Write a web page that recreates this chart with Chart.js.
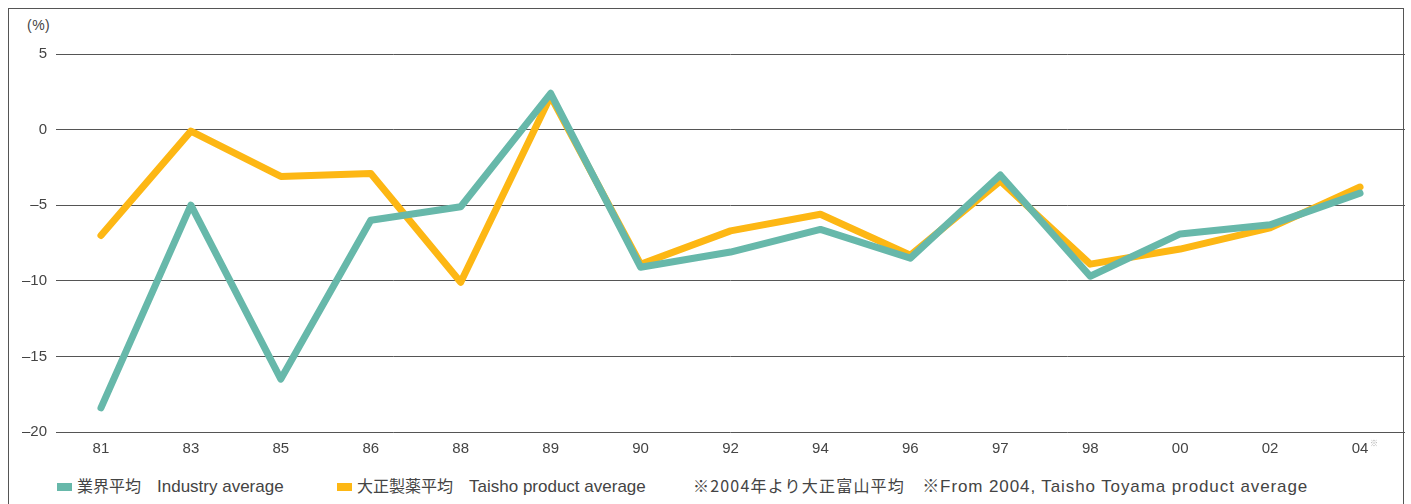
<!DOCTYPE html>
<html>
<head>
<meta charset="utf-8">
<script src="https://cdn.jsdelivr.net/npm/chart.js@4"></script>
<style>
    body { margin: 0; background: #fff; width: 1411px; height: 504px; overflow: hidden; position: relative; font-family: 'Liberation Sans', 'Noto Sans CJK JP', sans-serif; color: #444; }
    .frame { position: absolute; left: 8px; top: 8px; width: 1396px; height: 560px; border: 1px solid #555; border-bottom: none; box-sizing: border-box; }
    #wrap { position: absolute; left: 0; top: 0; width: 1411px; height: 470px; }
    .unit { position: absolute; left: 27px; top: 17px; font-size: 14px; letter-spacing: 0.5px; }
    .legend { position: absolute; top: 475px; line-height: 20px; white-space: nowrap; }
    .legend .box { display: inline-block; width: 15px; height: 8px; margin-right: 5px; vertical-align: 1px; }
    .legend .ja { font-family: 'Noto Sans CJK JP', sans-serif; font-size: 16px; }
    .legend .en { font-size: 17px; }
    .legend.note .ja { letter-spacing: 1.2px; }
    .legend.note .en { letter-spacing: 0.9px; }
</style>
</head>
<body>
<div class="frame"></div>
<div class="unit">(%)</div>
<div id="wrap"><canvas id="chart"></canvas></div>
<div id="legend"></div>

<script>
const years = ['81', '83', '85', '86', '88', '89', '90', '92', '94', '96', '97', '98', '00', '02', '04']
const industryAvg = [-18.4, -5.0, -16.5, -6.0, -5.1, 2.4, -9.1, -8.1, -6.6, -8.5, -3.0, -9.7, -6.9, -6.3, -4.2]
const taishoAvg = [-7.0, -0.1, -3.1, -2.9, -10.1, 2.2, -8.9, -6.7, -5.6, -8.3, -3.4, -8.9, -7.9, -6.5, -3.8]
const yTicks = [5, 0, -5, -10, -15, -20]

const seriesNames = [
    { ja: '業界平均', en: 'Industry average', color: '#67b8aa', left: 57 },
    { ja: '大正製薬平均', en: 'Taisho product average', color: '#fdb714', left: 337 }
]
const footnote = { ja: '※2004年より大正富山平均', en: '※From 2004, Taisho Toyama product average', left: 693 }

// html legend under the chart
const elLegend = document.getElementById('legend')
let strHTML = ''
seriesNames.forEach(s => {
    strHTML += `<div class="legend" style="left:${s.left}px"><span class="box" style="background:${s.color}"></span><span class="ja">${s.ja}　</span><span class="en">${s.en}</span></div>`
})
strHTML += `<div class="legend note" style="left:${footnote.left}px"><span class="ja">${footnote.ja}　</span><span class="en">${footnote.en}</span></div>`
elLegend.innerHTML = strHTML

// little ※ mark next to the last year label
const noteMark = {
    id: 'noteMark',
    afterDraw(chart) {
        const x = chart.scales.x
        const ctx = chart.ctx
        ctx.save()
        ctx.font = '8px "Noto Sans CJK JP"'
        ctx.fillStyle = '#aaa'
        ctx.textBaseline = 'middle'
        ctx.fillText('※', x.getPixelForTick(years.length - 1) + 10, 443)
        ctx.restore()
    }
}

Chart.defaults.font.family = "'Liberation Sans', 'Noto Sans CJK JP', sans-serif"
Chart.defaults.color = '#444'

new Chart(document.getElementById('chart'), {
    type: 'line',
    data: {
        labels: years,
        datasets: [{
            label: seriesNames[0].en,
            data: industryAvg,
            borderColor: seriesNames[0].color,
            borderWidth: 7,
            pointRadius: 0,
            borderCapStyle: 'round',
            borderJoinStyle: 'round',
            tension: 0
        }, {
            label: seriesNames[1].en,
            data: taishoAvg,
            borderColor: seriesNames[1].color,
            borderWidth: 7,
            pointRadius: 0,
            borderCapStyle: 'round',
            borderJoinStyle: 'round',
            tension: 0
        }]
    },
    options: {
        responsive: true,
        maintainAspectRatio: false,
        animation: false,
        layout: { padding: { left: 0, right: 6, top: 54, bottom: 0 } },
        plugins: {
            legend: { display: false },
            tooltip: { enabled: false }
        },
        scales: {
            x: {
                offset: true,
                grid: { display: false, drawTicks: false },
                border: { display: false },
                ticks: { padding: 8, font: { size: 15 }, color: '#444', maxRotation: 0, autoSkip: false },
                afterFit: scale => { scale.height = 38 }
            },
            y: {
                min: -20,
                max: 5,
                grid: { color: '#555', lineWidth: 1, drawTicks: false },
                border: { display: false },
                afterBuildTicks: scale => { scale.ticks = yTicks.map(v => ({ value: v })) },
                ticks: {
                    padding: 9,
                    font: { size: 15 },
                    color: '#444',
                    callback: v => (v < 0 ? '–' + Math.abs(v) : String(v))
                },
                afterFit: scale => { scale.width = 56 }
            }
        }
    },
    plugins: [noteMark]
})
</script>
</body>
</html>
